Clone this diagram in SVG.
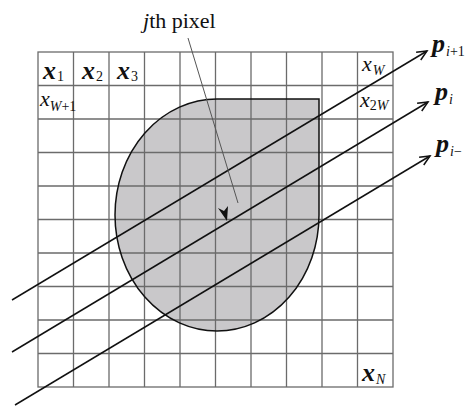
<svg xmlns="http://www.w3.org/2000/svg" width="465" height="406" viewBox="0 0 465 406">
<style>
.grid{stroke:#6b6b6b;stroke-width:1.3;fill:none}
.ray{stroke:#111;stroke-width:1.5;fill:none;marker-end:url(#open)}
.bx{font-weight:bold;font-style:italic;font-size:26px}
.ix{font-style:italic;font-size:22px}
.sub{font-size:14px}
.it{font-style:italic}
</style>
<defs>
<marker id="open" markerUnits="userSpaceOnUse" markerWidth="14" markerHeight="12" refX="11" refY="5" orient="auto">
<path d="M1,0.5 L11,5 L1,9.5" fill="none" stroke="#111" stroke-width="1.5"/>
</marker>
</defs>
<g id="object">
<path d="M217 99 H319 V215 A102 116 0 1 1 217 99 Z" fill="#c9c8ca"/>
</g>
<g id="grid" class="grid">
<rect x="38" y="52" width="355" height="335"/>
<path d="M73.5 52V387M109 52V387M144.5 52V387M180 52V387M215.5 52V387M251 52V387M286.5 52V387M322 52V387M357.5 52V387"/>
<path d="M38 85.5H393M38 119H393M38 152.5H393M38 186H393M38 219.5H393M38 253H393M38 286.5H393M38 320H393M38 353.5H393"/>
</g>
<g id="outline">
<path d="M217 99 H319 V215 A102 116 0 1 1 217 99 Z" fill="none" stroke="#111" stroke-width="1.5"/>
</g>
<g id="connectors">
<line class="ray" x1="12" y1="300" x2="427" y2="51"/>
<line class="ray" x1="12" y1="352" x2="428" y2="102"/>
<line class="ray" x1="15" y1="405" x2="430" y2="156"/>
<line x1="188" y1="38" x2="238" y2="203" stroke="#555" stroke-width="1"/>
<path d="M227 221 L218 208 L224 211 L228 206 Z" fill="#111"/>
</g>
<g id="labels" fill="#111">
<text x="143" y="28" font-family="Liberation Serif" font-size="22"><tspan class="it">j</tspan>th pixel</text>
<text x="43" y="79" font-family="Liberation Serif"><tspan class="bx">x</tspan><tspan class="sub" dx="1" dy="2">1</tspan></text>
<text x="82" y="79" font-family="Liberation Serif"><tspan class="bx">x</tspan><tspan class="sub" dx="1" dy="2">2</tspan></text>
<text x="117" y="79" font-family="Liberation Serif"><tspan class="bx">x</tspan><tspan class="sub" dx="1" dy="2">3</tspan></text>
<text x="362" y="71" font-family="Liberation Serif"><tspan class="ix">x</tspan><tspan class="sub it" dx="1" dy="4">W</tspan></text>
<text x="40" y="106" font-family="Liberation Serif"><tspan class="ix">x</tspan><tspan class="sub" dy="5"><tspan class="it">W</tspan>+1</tspan></text>
<text x="360" y="107" font-family="Liberation Serif"><tspan class="ix">x</tspan><tspan class="sub" dy="3">2<tspan class="it">W</tspan></tspan></text>
<text x="362" y="381" font-family="Liberation Serif"><tspan class="bx">x</tspan><tspan class="sub it" dx="1" dy="3">N</tspan></text>
<text x="432" y="52" font-family="Liberation Serif"><tspan class="bx">p</tspan><tspan class="sub" dx="1" dy="4"><tspan class="it">i</tspan>+1</tspan></text>
<text x="435" y="100" font-family="Liberation Serif"><tspan class="bx">p</tspan><tspan class="sub it" dx="1" dy="4">i</tspan></text>
<text x="436" y="152" font-family="Liberation Serif"><tspan class="bx">p</tspan><tspan class="sub" dx="1" dy="4"><tspan class="it">i</tspan>−</tspan></text>
</g>
</svg>
